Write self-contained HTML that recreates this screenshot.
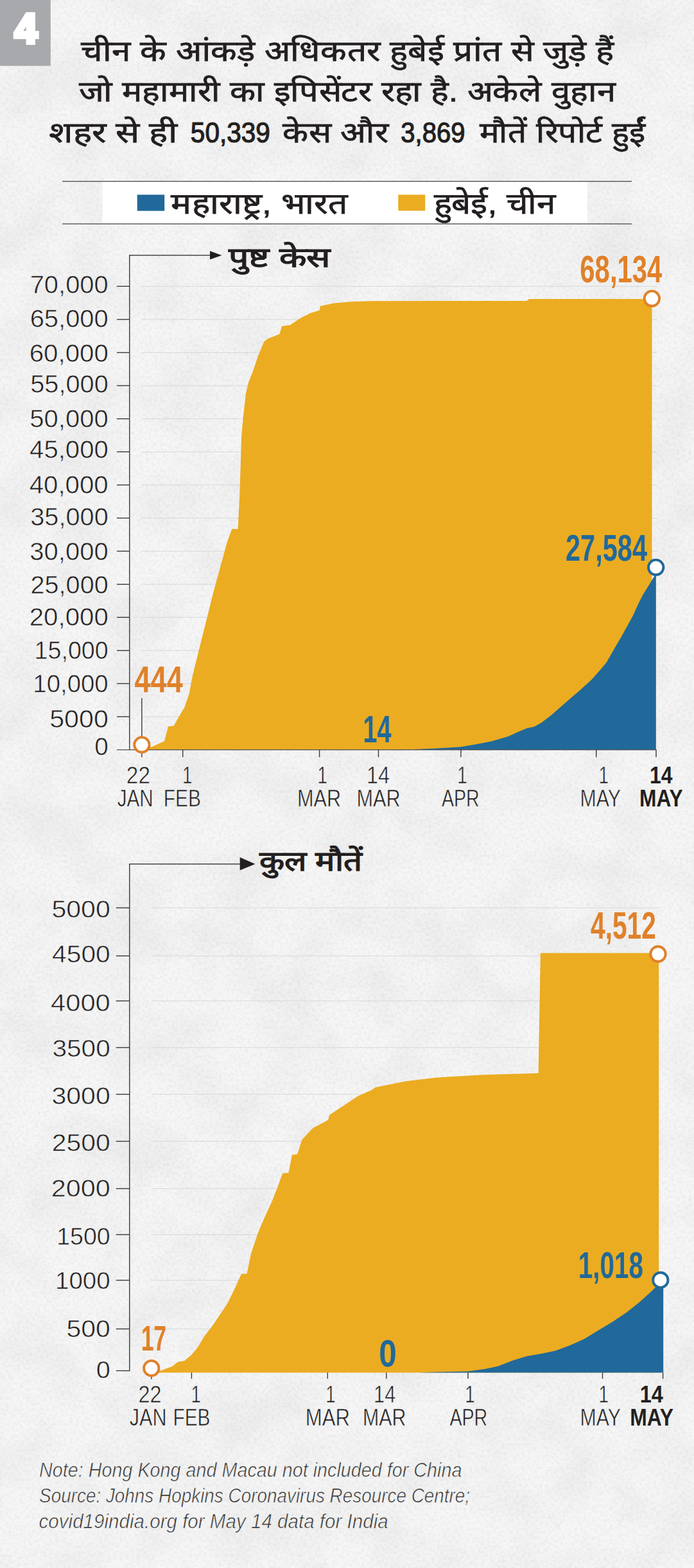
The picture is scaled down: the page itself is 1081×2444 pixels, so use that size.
<!DOCTYPE html>
<html lang="hi"><head><meta charset="utf-8"><title>Hubei vs Maharashtra</title>
<style>
html,body{margin:0;padding:0;background:#f6f6f6;}
body{width:1081px;height:2444px;overflow:hidden;position:relative;font-family:"Liberation Sans",sans-serif;}
svg{position:absolute;left:0;top:0;display:block;}
svg text{font-family:"Liberation Sans",sans-serif;white-space:pre;}
</style></head><body>
<svg width="1081" height="2444" viewBox="0 0 1081 2444">
<defs><filter id="paper" x="0" y="0" width="100%" height="100%" color-interpolation-filters="sRGB"><feTurbulence type="fractalNoise" baseFrequency="0.22" numOctaves="2" seed="7" result="n1"/><feColorMatrix in="n1" type="matrix" values="0 0 0 0 0  0 0 0 0 0  0 0 0 0 0  0.10 0 0 0 -0.04" result="a1"/><feTurbulence type="fractalNoise" baseFrequency="0.012" numOctaves="3" seed="11" result="n2"/><feColorMatrix in="n2" type="matrix" values="0 0 0 0 0  0 0 0 0 0  0 0 0 0 0  0.07 0 0 0 -0.025" result="a2"/><feMerge><feMergeNode in="a1"/><feMergeNode in="a2"/></feMerge></filter></defs>
<rect x="0" y="0" width="1081" height="2444" fill="#000" filter="url(#paper)"/>
<rect x="0" y="0" width="78.8" height="102.7" fill="#a7a9ac"/>
<text transform="translate(22.80,67.2) scale(0.9867,1)" font-size="64.5" fill="#fff" font-weight="bold" stroke="#fff" stroke-width="6" stroke-linejoin="miter">4</text>
<text x="125.9" y="94.5" font-size="45" fill="#231f20" stroke="#231f20" stroke-width="0.8" textLength="830.5" lengthAdjust="spacingAndGlyphs">चीन के आंकड़े अधिकतर हुबेई प्रांत से जुड़े हैं</text>
<text x="122.9" y="158.4" font-size="45" fill="#231f20" stroke="#231f20" stroke-width="0.8" textLength="835.8" lengthAdjust="spacingAndGlyphs">जो महामारी का इपिसेंटर रहा है. अकेले वुहान</text>
<text x="75.9" y="222.4" font-size="45" fill="#231f20" stroke="#231f20" stroke-width="0.8" textLength="200.5" lengthAdjust="spacingAndGlyphs">शहर से ही</text>
<text x="440.3" y="222.4" font-size="45" fill="#231f20" stroke="#231f20" stroke-width="0.8" textLength="164.2" lengthAdjust="spacingAndGlyphs">केस और</text>
<text x="746.5" y="222.4" font-size="45" fill="#231f20" stroke="#231f20" stroke-width="0.8" textLength="258.9" lengthAdjust="spacingAndGlyphs">मौतें रिपोर्ट हुईं</text>
<text transform="translate(296.83,222.1) scale(0.9058,1)" font-size="44.8" fill="#231f20" stroke="#231f20" stroke-width="1.2">50,339</text>
<text transform="translate(624.25,222.1) scale(0.8944,1)" font-size="44.8" fill="#231f20" stroke="#231f20" stroke-width="1.2">3,869</text>
<rect x="159.6" y="283" width="755.2" height="66" fill="#fff"/>
<rect x="97" y="282" width="887" height="1.3" fill="#4a4a4a"/>
<rect x="97" y="348.3" width="887" height="1.3" fill="#4a4a4a"/>
<rect x="213.7" y="303.5" width="42.5" height="25.2" fill="#21699a"/>
<rect x="620.3" y="303.5" width="42" height="25" fill="#ebac21"/>
<text x="266.2" y="333.1" font-size="46" fill="#231f20" stroke="#231f20" stroke-width="0.8" textLength="274.9" lengthAdjust="spacingAndGlyphs">महाराष्ट्र, भारत</text>
<text x="675.5" y="333.1" font-size="46" fill="#231f20" stroke="#231f20" stroke-width="0.8" textLength="190.6" lengthAdjust="spacingAndGlyphs">हुबेई, चीन</text>
<rect x="220" y="1116.6" width="803" height="1" fill="#d5d8db"/>
<rect x="220" y="1065.0" width="803" height="1" fill="#d5d8db"/>
<rect x="220" y="1013.4" width="803" height="1" fill="#d5d8db"/>
<rect x="220" y="961.8" width="803" height="1" fill="#d5d8db"/>
<rect x="220" y="910.2" width="803" height="1" fill="#d5d8db"/>
<rect x="220" y="858.6" width="803" height="1" fill="#d5d8db"/>
<rect x="220" y="807.0" width="803" height="1" fill="#d5d8db"/>
<rect x="220" y="755.4" width="803" height="1" fill="#d5d8db"/>
<rect x="220" y="703.8" width="803" height="1" fill="#d5d8db"/>
<rect x="220" y="652.2" width="803" height="1" fill="#d5d8db"/>
<rect x="220" y="600.6" width="803" height="1" fill="#d5d8db"/>
<rect x="220" y="549.0" width="803" height="1" fill="#d5d8db"/>
<rect x="220" y="497.4" width="803" height="1" fill="#d5d8db"/>
<rect x="220" y="445.8" width="803" height="1" fill="#d5d8db"/>
<polygon fill="#ebac21" points="221.0,1168.7 221.0,1161.0 235.5,1164.5 255.9,1155.2 262.1,1132.3 270.7,1131.5 278.0,1118.2 287.3,1102.7 294.7,1081.2 300.3,1051.6 307.7,1022.0 315.0,992.4 322.5,962.8 331.7,925.8 342.8,885.1 353.9,844.4 361.3,824.4 370.6,824.4 373.2,773.0 375.0,717.5 376.1,680.5 379.1,647.2 382.8,613.9 387.2,595.4 394.6,576.9 402.0,554.7 411.3,532.5 416.8,528.0 435.3,520.7 439.0,508.5 452.0,506.6 468.6,495.5 483.4,488.1 497.5,483.7 499.0,477.0 520.4,472.6 550.0,469.9 580.0,469.3 700.0,469.1 820.0,469.0 824.5,465.9 1015.5,465.9 1015.5,1168.7"/>
<polygon fill="#21699a" points="590.0,1168.7 640.0,1168.2 680.0,1166.5 717.1,1164.3 739.4,1160.6 765.3,1155.4 791.3,1148.0 809.8,1139.4 821.0,1135.0 832.1,1132.7 843.2,1126.4 858.1,1115.3 872.9,1102.3 887.7,1089.3 902.6,1076.4 921.1,1059.7 936.0,1043.0 945.2,1031.8 954.5,1015.2 967.5,992.9 976.8,976.2 986.0,959.5 993.5,942.8 1000.9,928.0 1010.1,913.1 1021.8,894.0 1021.8,1168.7"/>
<rect x="201.1" y="397.2" width="1.4" height="771.5" fill="#3a3a3a"/>
<rect x="201.1" y="397.2" width="127" height="1.4" fill="#3a3a3a"/>
<polygon fill="#231f20" points="327,391.2 345.5,397.9 327,404.5"/>
<rect x="182" y="1168.1" width="840.5" height="1.2" fill="#4a4a4a"/>
<rect x="182" y="1116.4" width="19.5" height="1.4" fill="#3a3a3a"/>
<rect x="182" y="1064.8" width="19.5" height="1.4" fill="#3a3a3a"/>
<rect x="182" y="1013.2" width="19.5" height="1.4" fill="#3a3a3a"/>
<rect x="182" y="961.6" width="19.5" height="1.4" fill="#3a3a3a"/>
<rect x="182" y="910.0" width="19.5" height="1.4" fill="#3a3a3a"/>
<rect x="182" y="858.4" width="19.5" height="1.4" fill="#3a3a3a"/>
<rect x="182" y="806.8" width="19.5" height="1.4" fill="#3a3a3a"/>
<rect x="182" y="755.2" width="19.5" height="1.4" fill="#3a3a3a"/>
<rect x="182" y="703.6" width="19.5" height="1.4" fill="#3a3a3a"/>
<rect x="182" y="652.0" width="19.5" height="1.4" fill="#3a3a3a"/>
<rect x="182" y="600.4" width="19.5" height="1.4" fill="#3a3a3a"/>
<rect x="182" y="548.8" width="19.5" height="1.4" fill="#3a3a3a"/>
<rect x="182" y="497.2" width="19.5" height="1.4" fill="#3a3a3a"/>
<rect x="182" y="445.6" width="19.5" height="1.4" fill="#3a3a3a"/>
<rect x="220.2" y="1168.7" width="1.4" height="11.5" fill="#3a3a3a"/>
<rect x="284.0" y="1168.7" width="1.4" height="11.5" fill="#3a3a3a"/>
<rect x="496.9" y="1168.7" width="1.4" height="11.5" fill="#3a3a3a"/>
<rect x="588.8" y="1168.7" width="1.4" height="11.5" fill="#3a3a3a"/>
<rect x="717.2" y="1168.7" width="1.4" height="11.5" fill="#3a3a3a"/>
<rect x="928.0" y="1168.7" width="1.4" height="11.5" fill="#3a3a3a"/>
<rect x="1021.3" y="1168.7" width="1.4" height="11.5" fill="#3a3a3a"/>
<text transform="translate(46.63,457.2) scale(1.0511,1)" font-size="38" fill="#231f20" stroke="#f0f0f0" stroke-width="0.6">70,000</text>
<text transform="translate(46.63,510.3) scale(1.0511,1)" font-size="38" fill="#231f20" stroke="#f0f0f0" stroke-width="0.6">65,000</text>
<text transform="translate(45.71,563.5) scale(1.0590,1)" font-size="38" fill="#231f20" stroke="#f0f0f0" stroke-width="0.6">60,000</text>
<text transform="translate(47.26,612.2) scale(1.0456,1)" font-size="38" fill="#231f20" stroke="#f0f0f0" stroke-width="0.6">55,000</text>
<text transform="translate(46.35,666.2) scale(1.0535,1)" font-size="38" fill="#231f20" stroke="#f0f0f0" stroke-width="0.6">50,000</text>
<text transform="translate(46.07,713.5) scale(1.0559,1)" font-size="38" fill="#231f20" stroke="#f0f0f0" stroke-width="0.6">45,000</text>
<text transform="translate(45.67,768.5) scale(1.0594,1)" font-size="38" fill="#231f20" stroke="#f0f0f0" stroke-width="0.6">40,000</text>
<text transform="translate(47.26,819.4) scale(1.0456,1)" font-size="38" fill="#231f20" stroke="#f0f0f0" stroke-width="0.6">35,000</text>
<text transform="translate(46.35,873.0) scale(1.0535,1)" font-size="38" fill="#231f20" stroke="#f0f0f0" stroke-width="0.6">30,000</text>
<text transform="translate(47.54,924.5) scale(1.0432,1)" font-size="38" fill="#231f20" stroke="#f0f0f0" stroke-width="0.6">25,000</text>
<text transform="translate(45.71,975.3) scale(1.0590,1)" font-size="38" fill="#231f20" stroke="#f0f0f0" stroke-width="0.6">20,000</text>
<text transform="translate(53.55,1027.3) scale(0.9911,1)" font-size="38" fill="#231f20" stroke="#f0f0f0" stroke-width="0.6">15,000</text>
<text transform="translate(51.30,1078.5) scale(1.0106,1)" font-size="38" fill="#231f20" stroke="#f0f0f0" stroke-width="0.6">10,000</text>
<text transform="translate(77.21,1133.7) scale(1.0837,1)" font-size="38" fill="#231f20" stroke="#f0f0f0" stroke-width="0.6">5000</text>
<text transform="translate(147.19,1176.6) scale(1.0211,1)" font-size="38" fill="#231f20" stroke="#f0f0f0" stroke-width="0.6">0</text>
<text x="356.2" y="416.4" font-size="43" font-weight="bold" fill="#231f20" textLength="158.6" lengthAdjust="spacingAndGlyphs">पुष्ट केस</text>
<text transform="translate(196.84,1221.2) scale(0.9117,1)" font-size="36.6" fill="#231f20" stroke="#f0f0f0" stroke-width="0.6">22</text>
<text transform="translate(182.64,1257.3) scale(0.8111,1)" font-size="36.6" fill="#231f20" stroke="#f0f0f0" stroke-width="0.6">JAN</text>
<text transform="translate(283.96,1221.2) scale(0.7598,1)" font-size="36.6" fill="#231f20" stroke="#f0f0f0" stroke-width="0.6">1</text>
<text transform="translate(254.76,1257.3) scale(0.8176,1)" font-size="36.6" fill="#231f20" stroke="#f0f0f0" stroke-width="0.6">FEB</text>
<text transform="translate(494.46,1221.2) scale(0.7598,1)" font-size="36.6" fill="#231f20" stroke="#f0f0f0" stroke-width="0.6">1</text>
<text transform="translate(462.90,1257.3) scale(0.8380,1)" font-size="36.6" fill="#231f20" stroke="#f0f0f0" stroke-width="0.6">MAR</text>
<text transform="translate(570.97,1221.2) scale(0.8877,1)" font-size="36.6" fill="#231f20" stroke="#f0f0f0" stroke-width="0.6">14</text>
<text transform="translate(555.40,1257.3) scale(0.8380,1)" font-size="36.6" fill="#231f20" stroke="#f0f0f0" stroke-width="0.6">MAR</text>
<text transform="translate(712.16,1221.2) scale(0.7598,1)" font-size="36.6" fill="#231f20" stroke="#f0f0f0" stroke-width="0.6">1</text>
<text transform="translate(688.00,1257.3) scale(0.7799,1)" font-size="36.6" fill="#231f20" stroke="#f0f0f0" stroke-width="0.6">APR</text>
<text transform="translate(932.56,1221.2) scale(0.7598,1)" font-size="36.6" fill="#231f20" stroke="#f0f0f0" stroke-width="0.6">1</text>
<text transform="translate(903.53,1257.3) scale(0.8276,1)" font-size="36.6" fill="#231f20" stroke="#f0f0f0" stroke-width="0.6">MAY</text>
<text transform="translate(1011.90,1221.2) scale(0.8744,1)" font-size="36.6" fill="#231f20" font-weight="bold">14</text>
<text transform="translate(996.02,1257.3) scale(0.8673,1)" font-size="36.6" fill="#231f20" font-weight="bold">MAY</text>
<rect x="220.2" y="1088.2" width="1.4" height="62" fill="#3a3a3a"/>
<circle cx="220.9" cy="1160.8" r="11.7" fill="#fff" stroke="#e0812a" stroke-width="3.9"/>
<circle cx="1015.4" cy="465.3" r="11.7" fill="#fff" stroke="#e0812a" stroke-width="3.9"/>
<circle cx="1021.7" cy="884.3" r="11.7" fill="#fff" stroke="#21699a" stroke-width="3.9"/>
<text transform="translate(903.29,439.7) scale(0.7113,1)" font-size="58.9" fill="#e0812a" font-weight="bold">68,134</text>
<text transform="translate(209.50,1079.2) scale(0.7786,1)" font-size="57.9" fill="#e0812a" font-weight="bold">444</text>
<text transform="translate(880.90,874.4) scale(0.7254,1)" font-size="57.3" fill="#21699a" font-weight="bold">27,584</text>
<text transform="translate(565.52,1157.0) scale(0.6770,1)" font-size="58.6" fill="#21699a" font-weight="bold">14</text>
<rect x="236" y="1414.5" width="790" height="1" fill="#d5d8db"/>
<rect x="236" y="1489.4" width="790" height="1" fill="#d5d8db"/>
<rect x="236" y="1559.6" width="790" height="1" fill="#d5d8db"/>
<rect x="236" y="1632.3" width="790" height="1" fill="#d5d8db"/>
<rect x="236" y="1705.1" width="790" height="1" fill="#d5d8db"/>
<rect x="236" y="1778.4" width="790" height="1" fill="#d5d8db"/>
<rect x="236" y="1852.1" width="790" height="1" fill="#d5d8db"/>
<rect x="236" y="1923.9" width="790" height="1" fill="#d5d8db"/>
<rect x="236" y="1995.0" width="790" height="1" fill="#d5d8db"/>
<rect x="236" y="2070.9" width="790" height="1" fill="#d5d8db"/>
<polygon fill="#ebac21" points="236.0,2139.4 236.0,2133.0 250.3,2136.5 268.8,2129.5 276.9,2122.8 287.3,2121.0 298.4,2111.7 307.7,2100.6 318.8,2082.1 331.7,2065.5 342.8,2048.8 353.9,2032.2 365.0,2010.0 376.1,1985.5 384.6,1985.2 390.9,1954.5 402.0,1921.2 413.1,1895.3 424.2,1871.3 433.5,1847.2 440.1,1828.7 449.4,1828.0 454.9,1799.9 463.1,1799.1 470.5,1776.2 487.1,1758.4 511.2,1745.5 513.0,1738.1 535.2,1723.3 557.4,1708.5 580.0,1698.5 584.1,1695.0 632.3,1685.3 680.5,1679.5 752.8,1675.2 838.6,1672.8 841.9,1485.6 1026.2,1485.6 1026.2,2139.4"/>
<polygon fill="#21699a" points="650.0,2139.4 680.0,2138.5 728.2,2137.4 754.2,2134.1 776.4,2129.3 798.7,2120.4 821.0,2113.7 843.2,2110.0 865.5,2105.2 887.7,2097.0 910.0,2087.0 932.2,2073.6 954.5,2059.9 976.8,2045.1 995.3,2030.2 1013.9,2013.5 1023.1,2004.3 1033.2,2000.0 1033.2,2139.4"/>
<rect x="201.1" y="1346" width="1.4" height="791.2" fill="#3a3a3a"/>
<rect x="201.1" y="1346" width="174" height="1.4" fill="#3a3a3a"/>
<polygon fill="#231f20" points="373.7,1336.2 397.5,1346.7 373.7,1356.4"/>
<rect x="180.8" y="1414.3" width="21" height="1.4" fill="#3a3a3a"/>
<rect x="180.8" y="1489.2" width="21" height="1.4" fill="#3a3a3a"/>
<rect x="180.8" y="1559.4" width="21" height="1.4" fill="#3a3a3a"/>
<rect x="180.8" y="1632.1" width="21" height="1.4" fill="#3a3a3a"/>
<rect x="180.8" y="1704.9" width="21" height="1.4" fill="#3a3a3a"/>
<rect x="180.8" y="1778.2" width="21" height="1.4" fill="#3a3a3a"/>
<rect x="180.8" y="1851.9" width="21" height="1.4" fill="#3a3a3a"/>
<rect x="180.8" y="1923.7" width="21" height="1.4" fill="#3a3a3a"/>
<rect x="180.8" y="1994.8" width="21" height="1.4" fill="#3a3a3a"/>
<rect x="180.8" y="2070.7" width="21" height="1.4" fill="#3a3a3a"/>
<rect x="180.8" y="2135.8" width="21" height="1.4" fill="#3a3a3a"/>
<rect x="297.7" y="2139.4" width="1.4" height="9.6" fill="#3a3a3a"/>
<rect x="509.6" y="2139.4" width="1.4" height="9.6" fill="#3a3a3a"/>
<rect x="601.1" y="2139.4" width="1.4" height="9.6" fill="#3a3a3a"/>
<rect x="728.3" y="2139.4" width="1.4" height="9.6" fill="#3a3a3a"/>
<rect x="937.8" y="2139.4" width="1.4" height="9.6" fill="#3a3a3a"/>
<rect x="1031.9" y="2139.4" width="1.4" height="9.6" fill="#3a3a3a"/>
<rect x="235.1" y="2145.7" width="1.4" height="4" fill="#3a3a3a"/>
<text transform="translate(80.42,1430.1) scale(1.0928,1)" font-size="37.6" fill="#231f20" stroke="#f0f0f0" stroke-width="0.6">5000</text>
<text transform="translate(81.06,1499.7) scale(1.0850,1)" font-size="37.6" fill="#231f20" stroke="#f0f0f0" stroke-width="0.6">4500</text>
<text transform="translate(79.05,1576.0) scale(1.1093,1)" font-size="37.6" fill="#231f20" stroke="#f0f0f0" stroke-width="0.6">4000</text>
<text transform="translate(81.43,1647.2) scale(1.0805,1)" font-size="37.6" fill="#231f20" stroke="#f0f0f0" stroke-width="0.6">3500</text>
<text transform="translate(80.42,1720.5) scale(1.0928,1)" font-size="37.6" fill="#231f20" stroke="#f0f0f0" stroke-width="0.6">3000</text>
<text transform="translate(80.78,1793.8) scale(1.0884,1)" font-size="37.6" fill="#231f20" stroke="#f0f0f0" stroke-width="0.6">2500</text>
<text transform="translate(79.76,1865.4) scale(1.1007,1)" font-size="37.6" fill="#231f20" stroke="#f0f0f0" stroke-width="0.6">2000</text>
<text transform="translate(88.15,1940.3) scale(0.9993,1)" font-size="37.6" fill="#231f20" stroke="#f0f0f0" stroke-width="0.6">1500</text>
<text transform="translate(85.99,2008.9) scale(1.0254,1)" font-size="37.6" fill="#231f20" stroke="#f0f0f0" stroke-width="0.6">1000</text>
<text transform="translate(103.42,2083.6) scale(1.0904,1)" font-size="37.6" fill="#231f20" stroke="#f0f0f0" stroke-width="0.6">500</text>
<text transform="translate(149.66,2148.3) scale(1.0585,1)" font-size="37.6" fill="#231f20" stroke="#f0f0f0" stroke-width="0.6">0</text>
<text x="403.7" y="1356.9" font-size="43" font-weight="bold" fill="#231f20" textLength="161.1" lengthAdjust="spacingAndGlyphs">कुल मौतें</text>
<text transform="translate(215.48,2186.2) scale(0.8877,1)" font-size="36.6" fill="#231f20" stroke="#f0f0f0" stroke-width="0.6">22</text>
<text transform="translate(201.72,2222.3) scale(0.8355,1)" font-size="36.6" fill="#231f20" stroke="#f0f0f0" stroke-width="0.6">JAN</text>
<text transform="translate(297.56,2186.2) scale(0.7598,1)" font-size="36.6" fill="#231f20" stroke="#f0f0f0" stroke-width="0.6">1</text>
<text transform="translate(269.47,2222.3) scale(0.8146,1)" font-size="36.6" fill="#231f20" stroke="#f0f0f0" stroke-width="0.6">FEB</text>
<text transform="translate(507.36,2186.2) scale(0.7598,1)" font-size="36.6" fill="#231f20" stroke="#f0f0f0" stroke-width="0.6">1</text>
<text transform="translate(475.76,2222.3) scale(0.8523,1)" font-size="36.6" fill="#231f20" stroke="#f0f0f0" stroke-width="0.6">MAR</text>
<text transform="translate(582.09,2186.2) scale(0.8371,1)" font-size="36.6" fill="#231f20" stroke="#f0f0f0" stroke-width="0.6">14</text>
<text transform="translate(564.93,2222.3) scale(0.8290,1)" font-size="36.6" fill="#231f20" stroke="#f0f0f0" stroke-width="0.6">MAR</text>
<text transform="translate(724.36,2186.2) scale(0.7598,1)" font-size="36.6" fill="#231f20" stroke="#f0f0f0" stroke-width="0.6">1</text>
<text transform="translate(700.40,2222.3) scale(0.7826,1)" font-size="36.6" fill="#231f20" stroke="#f0f0f0" stroke-width="0.6">APR</text>
<text transform="translate(932.56,2186.2) scale(0.7598,1)" font-size="36.6" fill="#231f20" stroke="#f0f0f0" stroke-width="0.6">1</text>
<text transform="translate(903.53,2222.3) scale(0.8276,1)" font-size="36.6" fill="#231f20" stroke="#f0f0f0" stroke-width="0.6">MAY</text>
<text transform="translate(996.77,2186.2) scale(0.8873,1)" font-size="36.6" fill="#231f20" font-weight="bold">14</text>
<text transform="translate(981.21,2222.3) scale(0.8700,1)" font-size="36.6" fill="#231f20" font-weight="bold">MAY</text>
<circle cx="235.8" cy="2132.6" r="11.7" fill="#fff" stroke="#e0812a" stroke-width="3.9"/>
<circle cx="1025" cy="1487" r="11.7" fill="#fff" stroke="#e0812a" stroke-width="3.9"/>
<circle cx="1028.8" cy="1995.2" r="11.7" fill="#fff" stroke="#21699a" stroke-width="3.9"/>
<text transform="translate(920.00,1462.8) scale(0.6962,1)" font-size="58.5" fill="#e0812a" font-weight="bold">4,512</text>
<text transform="translate(219.89,2105.0) scale(0.6305,1)" font-size="56.1" fill="#e0812a" font-weight="bold">17</text>
<text transform="translate(900.67,1991.6) scale(0.6999,1)" font-size="57.8" fill="#21699a" font-weight="bold">1,018</text>
<text transform="translate(590.25,2129.6) scale(0.8455,1)" font-size="58.6" fill="#21699a" font-weight="bold">0</text>
<text transform="translate(61.05,2302.2) scale(0.9430,1)" font-size="30.5" fill="#333" font-style="italic" stroke="#f0f0f0" stroke-width="0.7">Note: Hong Kong and Macau not included for China</text>
<text transform="translate(61.06,2342.2) scale(0.9143,1)" font-size="30.5" fill="#333" font-style="italic" stroke="#f0f0f0" stroke-width="0.7">Source: Johns Hopkins Coronavirus Resource Centre;</text>
<text transform="translate(60.58,2381.6) scale(0.9700,1)" font-size="30.5" fill="#333" font-style="italic" stroke="#f0f0f0" stroke-width="0.7">covid19india.org for May 14 data for India</text>
</svg>
</body></html>
